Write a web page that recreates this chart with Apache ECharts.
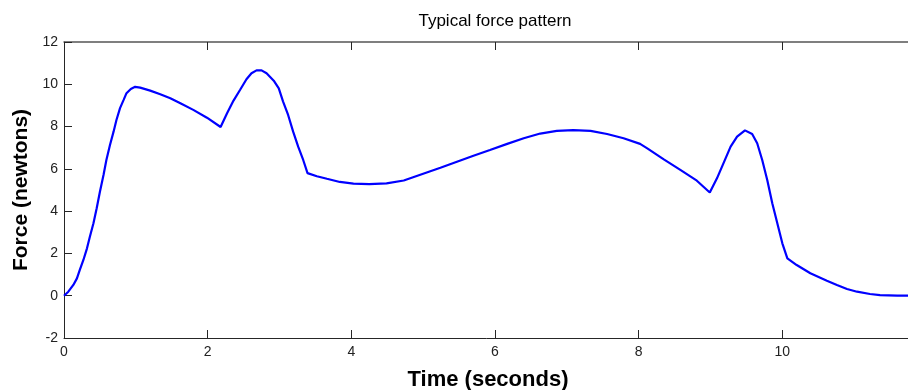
<!DOCTYPE html>
<html>
<head>
<meta charset="utf-8">
<script src="https://cdn.jsdelivr.net/npm/echarts@6/dist/echarts.min.js"></script>
<style>
  html, body { margin: 0; padding: 0; background: #fff; }
  #main { width: 908px; height: 390px; }
</style>
</head>
<body>
<div id="main"></div>
<script>
// time (s) and force (N)
var timeValues = [0, 0.06, 0.13, 0.18, 0.22, 0.27, 0.32, 0.36, 0.41, 0.455, 0.5, 0.55,
  0.59, 0.64, 0.69, 0.73, 0.78, 0.83, 0.87, 0.93, 0.99, 1.06,
  1.2, 1.34, 1.48, 1.62, 1.8, 1.99, 2.18,
  2.27, 2.36, 2.45, 2.54, 2.61, 2.68, 2.75, 2.82, 2.92, 2.99,
  3.05, 3.12, 3.19, 3.26, 3.33, 3.39,
  3.52, 3.66, 3.84, 4.03, 4.25, 4.49, 4.73, 5.0, 5.24, 5.47, 5.7, 5.93,
  6.17, 6.4, 6.63, 6.86, 7.09, 7.33, 7.56, 7.79, 8.02,
  8.12, 8.35, 8.58, 8.81, 8.99,
  9.09, 9.18, 9.28, 9.37, 9.48, 9.58, 9.65, 9.72, 9.79, 9.86, 9.93, 10.0, 10.07,
  10.2, 10.39, 10.62, 10.76, 10.9, 11.04, 11.22, 11.36, 11.6, 12];
var forceValues = [0, 0.19, 0.51, 0.82, 1.22, 1.69, 2.24, 2.79, 3.43, 4.14, 4.92, 5.71,
  6.42, 7.13, 7.76, 8.31, 8.87, 9.26, 9.58, 9.78, 9.88, 9.84,
  9.7, 9.53, 9.34, 9.1, 8.79, 8.42, 7.98,
  8.63, 9.23, 9.73, 10.24, 10.52, 10.66, 10.66, 10.52, 10.17, 9.81,
  9.18, 8.55, 7.76, 7.05, 6.42, 5.8,
  5.65, 5.53, 5.38, 5.3, 5.28, 5.31, 5.45, 5.77, 6.05, 6.34, 6.62, 6.89,
  7.18, 7.45, 7.67, 7.8, 7.83, 7.8, 7.65, 7.45, 7.18,
  6.97, 6.45, 5.95, 5.44, 4.88,
  5.55, 6.26, 7.05, 7.52, 7.82, 7.65, 7.21, 6.42, 5.47, 4.37, 3.43, 2.48, 1.77,
  1.45, 1.06, 0.71, 0.51, 0.32, 0.19, 0.08, 0.03, 0, 0];
var xTicks = { min: 0, max: 12, step: 2 };
var yTicks = { min: -2, max: 12, step: 2 };

var points = timeValues.map(function (t, i) { return [t, forceValues[i]] })

var chart = echarts.init(document.getElementById('main'))
var axisColor = '#262626'
var font = 'Liberation Sans, Arial, sans-serif'

chart.setOption({
  animation: false,
  title: {
    text: 'Typical force pattern',
    left: 490,
    textAlign: 'center',
    top: 8,
    textStyle: { fontFamily: font, fontSize: 17, fontWeight: 'normal', color: '#000' }
  },
  grid: { left: 64, right: -18, top: 42, bottom: 52, outerBoundsMode: 'none', containLabel: false },
  xAxis: [{
    type: 'value',
    min: xTicks.min,
    max: xTicks.max,
    interval: xTicks.step,
    name: 'Time (seconds)',
    nameLocation: 'middle',
    nameGap: 31,
    nameTextStyle: { fontFamily: font, fontSize: 22, fontWeight: 'bold', color: '#000', padding: [0, 14, 0, 0] },
    axisLine: { show: true, onZero: false, lineStyle: { color: axisColor, width: 1 } },
    axisTick: { show: true, inside: true, length: 8, lineStyle: { color: axisColor } },
    axisLabel: { fontFamily: font, fontSize: 14, color: '#222', margin: 7 },
    splitLine: { show: false }
  }, {
    type: 'value',
    position: 'top',
    min: xTicks.min,
    max: xTicks.max,
    interval: xTicks.step,
    axisLine: { show: true, onZero: false, lineStyle: { color: '#555', width: 1.5 } },
    axisTick: { show: true, inside: true, length: 8, lineStyle: { color: axisColor } },
    axisLabel: { show: false },
    splitLine: { show: false }
  }],
  yAxis: {
    type: 'value',
    min: yTicks.min,
    max: yTicks.max,
    interval: yTicks.step,
    name: 'Force (newtons)',
    nameLocation: 'middle',
    nameGap: 24,
    nameTextStyle: { fontFamily: font, fontSize: 21, fontWeight: 'bold', color: '#000' },
    axisLine: { show: true, onZero: false, lineStyle: { color: axisColor, width: 1 } },
    axisTick: { show: true, inside: true, length: 8, lineStyle: { color: axisColor } },
    axisLabel: { fontFamily: font, fontSize: 14, color: '#222', margin: 6 },
    splitLine: { show: false }
  },
  series: [{
    type: 'line',
    data: points,
    showSymbol: false,
    smooth: false,
    lineStyle: { color: '#0000ff', width: 2.2 }
  }]
})
</script>
</body>
</html>
